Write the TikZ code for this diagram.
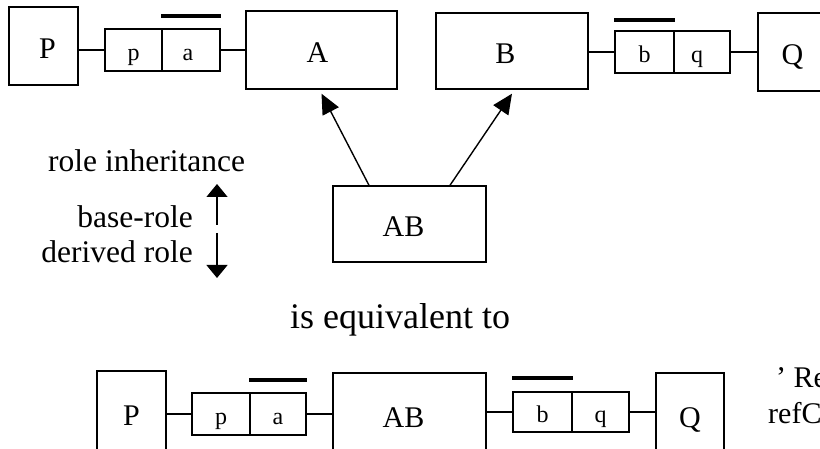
\documentclass[tikz,border=0pt]{standalone}
\usepackage{fontspec}
\setmainfont{Liberation Serif}
\usetikzlibrary{arrows.meta}
\tikzset{
  box/.style={draw, line width=1.4pt, inner sep=0pt, text height=30pt, text depth=5.4pt,
    font=\fontsize{30}{36}\selectfont},
  cell/.style={draw, line width=1.4pt, inner sep=0pt, minimum height=42pt, text height=26pt,
    text depth=5pt, font=\fontsize{24}{28}\selectfont},
  conn/.style={line width=1.4pt},
  bar/.style={line width=4pt},
  arr/.style={line width=1.4pt, -{Triangle[length=20pt,width=18pt]}},
  legarr/.style={line width=1.4pt, -{Triangle[length=13pt,width=21pt]}},
  lbl/.style={inner sep=0pt, font=\fontsize{31.5}{38}\selectfont},
}
\begin{document}
\begin{tikzpicture}[x=1pt,y=-1pt]
\useasboundingbox (0,0) rectangle (820,449);
\clip (0,0) rectangle (820,449);
% ---------- top row ----------
\node[box, minimum width=69pt, minimum height=78pt] (P1) at (43.5,46) {\hspace*{8pt}P};
\node[cell, minimum width=57pt] (p1) at (133.5,50) {p};
\node[cell, minimum width=58pt] (a1) at (191,50) {a\hspace*{6pt}};
\node[box, minimum width=151pt, minimum height=78pt] (A) at (321.5,50) {A\hspace*{8pt}};
\node[box, minimum width=152pt, minimum height=76pt] (B) at (512,51) {B\hspace*{13pt}};
\node[cell, minimum width=59pt] (b1) at (644.5,52) {b};
\node[cell, minimum width=56pt] (q1) at (702,52) {q\hspace*{10pt}};
\node[box, minimum width=69pt, minimum height=78pt] (Q1) at (792.5,52) {Q};
\draw[conn] (p1.west) -- (p1.west -| P1.east);
\draw[conn] (a1.east) -- (a1.east -| A.west);
\draw[conn] (b1.west) -- (b1.west -| B.east);
\draw[conn] (q1.east) -- (q1.east -| Q1.west);
\draw[bar] ([yshift=12.5pt]a1.north west) -- ([yshift=12.5pt]a1.north east);
\draw[bar] ([yshift=10pt]b1.north west) -- ([yshift=10pt]b1.north east);
% ---------- derived role ----------
\node[box, minimum width=153pt, minimum height=76pt] (AB) at (409.5,224) {AB\hspace*{12pt}};
\draw[arr] ([xshift=-40.5pt]AB.north) -- ([yshift=-4pt]A.south);
\draw[arr] ([xshift=40.5pt]AB.north) -- ([yshift=-4pt]B.south);
% ---------- legend ----------
\node[lbl, anchor=base west] (ri) at (48,172) {role inheritance};
\node[lbl, anchor=base east] (br) at (193,228) {base-role};
\node[lbl, anchor=base east] (dr) at (193,263) {derived role};
\coordinate (u0) at (217,225);
\coordinate (u1) at (217,184);
\coordinate (d0) at (217,233);
\coordinate (d1) at (217,278);
\draw[legarr] (u0) -- (u1);
\draw[legarr] (d0) -- (d1);
% ---------- equivalence ----------
\node[inner sep=0pt, anchor=base west, font=\fontsize{36}{43}\selectfont] (eq) at (290,328) {is equivalent to};
% ---------- bottom row ----------
\node[box, minimum width=69pt, minimum height=84pt] (P2) at (131.5,413) {P};
\node[cell, minimum width=58pt] (p2) at (221,414) {p};
\node[cell, minimum width=56pt] (a2) at (278,414) {a};
\node[box, minimum width=153pt, minimum height=84pt] (AB2) at (409.5,415) {AB\hspace*{12pt}};
\node[cell, minimum width=59pt, minimum height=40pt] (b2) at (542.5,412) {b};
\node[cell, minimum width=57pt, minimum height=40pt] (q2) at (600.5,412) {q};
\node[box, minimum width=68pt, minimum height=84pt] (Q2) at (690,415) {Q};
\draw[conn] (p2.west) -- (p2.west -| P2.east);
\draw[conn] (a2.east) -- (a2.east -| AB2.west);
\draw[conn] (b2.west) -- (b2.west -| AB2.east);
\draw[conn] (q2.east) -- (q2.east -| Q2.west);
\draw[bar] ([yshift=12pt]a2.north west) -- ([yshift=12pt]a2.north east);
\draw[bar] ([yshift=13pt]b2.north west) -- ([yshift=13pt]b2.north east);
\node[inner sep=0pt, anchor=base west, font=\fontsize{30}{36}\selectfont] (r1) at (776,388) {’ Re};
\node[inner sep=0pt, anchor=base west, font=\fontsize{30}{36}\selectfont] (r2) at (768,423) {refC};
\end{tikzpicture}
\end{document}
